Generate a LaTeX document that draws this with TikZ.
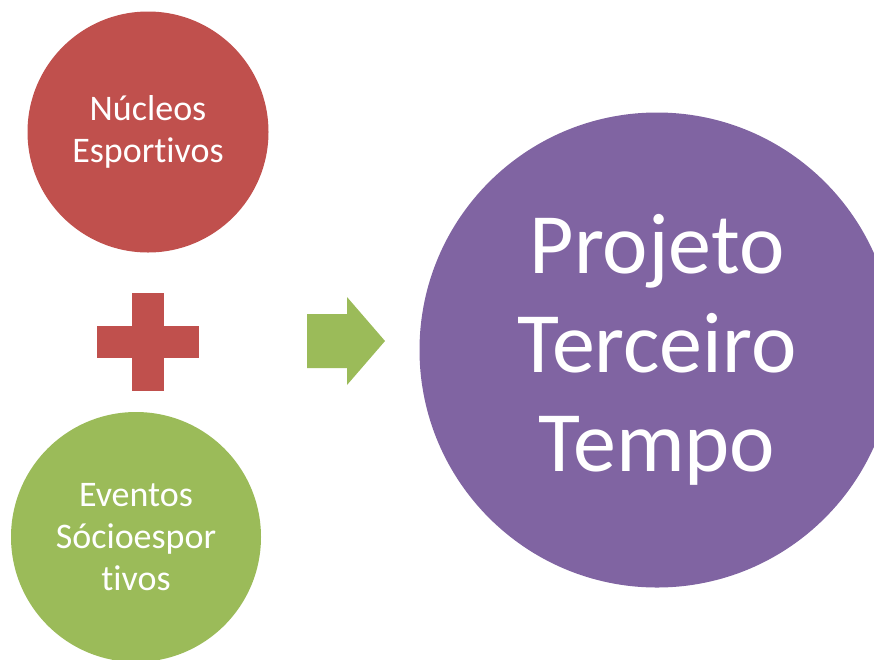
\documentclass[tikz,border=0pt]{standalone}
\usepackage{fontspec}
\setmainfont{Carlito}[Ligatures=NoCommon]
\usetikzlibrary{calc,positioning}
\definecolor{nucleored}{HTML}{C0504D}
\definecolor{eventgreen}{HTML}{9BBB59}
\definecolor{projpurple}{HTML}{8064A2}
\tikzset{
  bubble/.style={circle, text=white, align=center, inner sep=0pt},
  smalltxt/.style={font=\fontsize{36}{42}\selectfont},
  bigtxt/.style={font=\fontsize{86}{99}\selectfont},
}

\begin{document}
\begin{tikzpicture}[x=1pt,y=-1pt]
   \useasboundingbox (0,0) rectangle (874,659);
   \clip (0,0) rectangle (874,659);
   % the three circles
   \node[bubble, fill=nucleored, minimum size=241, smalltxt] (nucleos) at (148,132) {Núcleos\\Esportivos};
   \node[bubble, fill=eventgreen, minimum size=250, smalltxt] (eventos) at (136,537) {Eventos\\Sócioespor\\tivos};
   \node[bubble, fill=projpurple, minimum size=475, bigtxt] (projeto) at (657,350) {Projeto\\Terceiro\\Tempo};
   % plus sign
   \coordinate (plus) at (148,342);
        \foreach \w/\h in {51/16, 16/49}
   \fill[nucleored] ($(plus)+(-\w,-\h)$) rectangle ($(plus)+(\w,\h)$);
   % block arrow
   \coordinate (arr) at (307,341);
   \fill[eventgreen] (arr) ++(0,-27) -- ++(40,0) -- ++(0,-17) -- ++(38,44)
        -- ++(-38,44) -- ++(0,-17) -- ++(-40,0) -- cycle;
\end{tikzpicture}
\end{document}
